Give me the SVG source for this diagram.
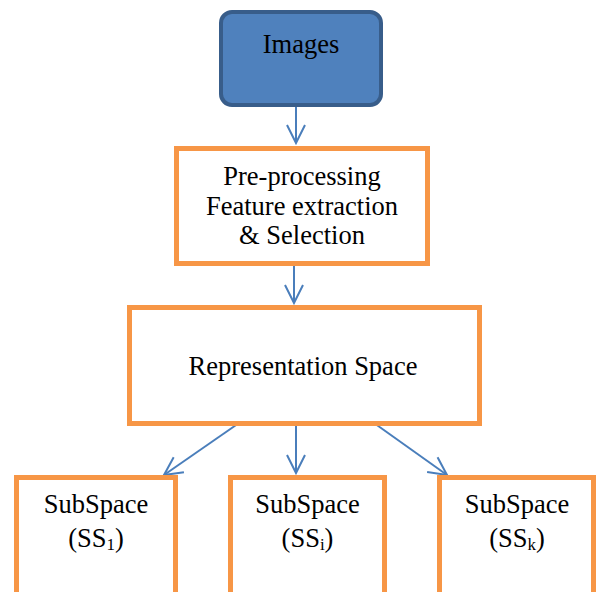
<svg xmlns="http://www.w3.org/2000/svg" width="597" height="592" viewBox="0 0 597 592">
<style>
.box{fill:#ffffff;stroke:#F79646;stroke-width:5}
.img{fill:#4F81BD;stroke:#385D8A;stroke-width:4}
.t{font-family:"Liberation Serif","Times New Roman",serif;font-size:26.5px;fill:#000;text-anchor:middle}
.sub{font-size:17px}
.c{stroke:#4A7EBB;stroke-width:2;fill:none}
</style>
<defs>
<marker id="arr" viewBox="-21 -11 23 22" refX="0" refY="0" markerUnits="userSpaceOnUse" markerWidth="23" markerHeight="22" orient="auto">
<path d="M-18,-9 L0,0 L-18,9" fill="none" stroke="#4A7EBB" stroke-width="2"/>
</marker>
</defs>
<rect width="597" height="592" fill="#ffffff"/>
<g id="connectors">
<line class="c" x1="296" y1="106" x2="296" y2="143" marker-end="url(#arr)"/>
<line class="c" x1="294" y1="266" x2="294" y2="303" marker-end="url(#arr)"/>
<line class="c" x1="239" y1="423" x2="164" y2="475" marker-end="url(#arr)"/>
<line class="c" x1="296" y1="426" x2="296" y2="473" marker-end="url(#arr)"/>
<line class="c" x1="374" y1="423" x2="447" y2="475" marker-end="url(#arr)"/>
</g>
<g id="images">
<rect class="img" x="221" y="12" width="160" height="93" rx="11" ry="11"/>
<text class="t" x="301" y="53">Images</text>
</g>
<g id="preprocessing">
<rect class="box" x="176.5" y="148.5" width="251" height="115"/>
<text class="t" x="302" y="185">Pre-processing</text>
<text class="t" x="302" y="215">Feature extraction</text>
<text class="t" x="302" y="244">&amp; Selection</text>
</g>
<g id="representation">
<rect class="box" x="129.5" y="307.5" width="350" height="116"/>
<text class="t" x="303" y="375">Representation Space</text>
</g>
<g id="ss1">
<rect class="box" x="16.5" y="477.5" width="159" height="130"/>
<text class="t" x="96" y="513">SubSpace</text>
<text class="t" x="96" y="547">(SS<tspan class="sub" dy="3">1</tspan><tspan dy="-3">)</tspan></text>
</g>
<g id="ssi">
<rect class="box" x="230.5" y="477.5" width="154" height="130"/>
<text class="t" x="307.5" y="513">SubSpace</text>
<text class="t" x="307.5" y="547">(SS<tspan class="sub" dy="3">i</tspan><tspan dy="-3">)</tspan></text>
</g>
<g id="ssk">
<rect class="box" x="439.5" y="477.5" width="154" height="130"/>
<text class="t" x="517" y="513">SubSpace</text>
<text class="t" x="517" y="547">(SS<tspan class="sub" dy="3">k</tspan><tspan dy="-3">)</tspan></text>
</g>
</svg>
